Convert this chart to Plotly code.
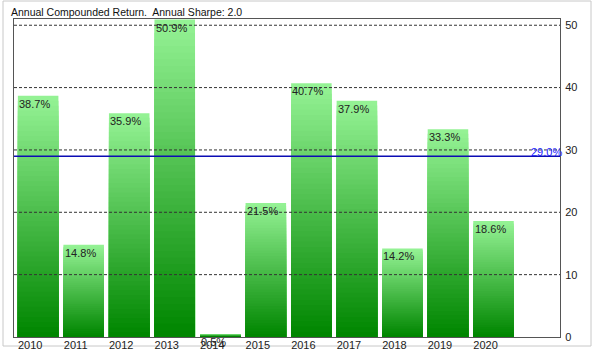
import plotly.graph_objects as go

# ---- data ----
years = ["2010", "2011", "2012", "2013", "2014", "2015", "2016", "2017", "2018", "2019", "2020"]
returns = [38.7, 14.8, 35.9, 50.9, 0.5, 21.5, 40.7, 37.9, 14.2, 33.3, 18.6]
mean_return = 29.0
y_ticks = [0, 10, 20, 30, 40, 50]
grid_levels = [10, 20, 30, 40, 50]
title_text = "Annual Compounded Return.  Annual Sharpe: 2.0"

# ---- layout geometry (pixels) ----
W, H = 600, 354
ML, MR, MT, MB = 14, 40, 19, 17
PW, PH = W - ML - MR, H - MT - MB


def px_x(p):
    return (p - ML) / PW


def px_y(p):
    return (H - MB - p) / PH


FONT = "Liberation Sans, Arial, sans-serif"
TOP = (148, 242, 148)
BOT = (0, 134, 0)
N = 48

fig = go.Figure()
# per-bar vertical gradient: overlay progressively shorter, darker bars
for k in range(N):
    t = k / (N - 1)
    c = tuple(round(TOP[j] + (BOT[j] - TOP[j]) * t) for j in range(3))
    frac = (N - k) / N
    fig.add_trace(go.Bar(
        x=years,
        y=[v * frac for v in returns],
        marker=dict(color="rgb(%d,%d,%d)" % c, line=dict(width=0)),
        hoverinfo="skip",
        showlegend=False,
    ))

shapes = []
# dashed grid lines above bars
for g in grid_levels:
    shapes.append(dict(type="line", xref="paper", x0=0, x1=1, yref="y", y0=g, y1=g,
                       line=dict(color="#333333", width=1, dash="3px,2px"), layer="above"))
# mean line
shapes.append(dict(type="line", xref="paper", x0=0, x1=1, yref="y", y0=mean_return, y1=mean_return,
                   line=dict(color="#0c0cb4", width=1.5), layer="above"))
# outer frame
shapes.append(dict(type="rect", xref="paper", yref="paper",
                   x0=px_x(3), x1=px_x(591), y0=px_y(346), y1=px_y(1),
                   line=dict(color="#c8c8c8", width=1), layer="below"))

annotations = []
for i, v in enumerate(returns):
    annotations.append(dict(x=i, y=v, xref="x", yref="y", text="%.1f%%" % v,
                            xanchor="left", yanchor="top", xshift=-21, yshift=0,
                            showarrow=False, font=dict(family=FONT, size=11, color="#222222")))
annotations.append(dict(x=1, xref="paper", y=mean_return, yref="y", text="%.1f%%" % mean_return,
                        xanchor="right", yanchor="middle", xshift=4, yshift=4, showarrow=False,
                        font=dict(family=FONT, size=11, color="#2222ff")))
annotations.append(dict(x=px_x(9), xref="paper", y=px_y(12), yref="paper", text=title_text,
                        xanchor="left", yanchor="middle", showarrow=False,
                        font=dict(family=FONT, size=10.5, color="#111111")))

fig.update_layout(
    width=W, height=H,
    margin=dict(l=ML, r=MR, t=MT, b=MB, pad=0, autoexpand=False),
    paper_bgcolor="white", plot_bgcolor="white",
    barmode="overlay", bargap=0.11,
    shapes=shapes, annotations=annotations,
    showlegend=False,
    font=dict(family=FONT, size=11, color="#222222"),
    xaxis=dict(type="category", range=[-0.53, 11.46], showgrid=False, zeroline=False,
               showline=True, linecolor="#555555", linewidth=1, mirror=True, ticks="",
               tickfont=dict(family=FONT, size=11, color="#222222"), automargin=False,
               ticklabelshift=-8, ticklabelstandoff=-2, fixedrange=True),
    yaxis=dict(side="right", range=[0, 51], tickvals=y_ticks, showgrid=False, zeroline=False,
               showline=True, linecolor="#555555", linewidth=1, mirror=True, ticks="",
               tickfont=dict(family=FONT, size=11, color="#222222"), automargin=False,
               ticklabelstandoff=2, fixedrange=True),
)

fig.write_html("out.html", config={"displayModeBar": False})
